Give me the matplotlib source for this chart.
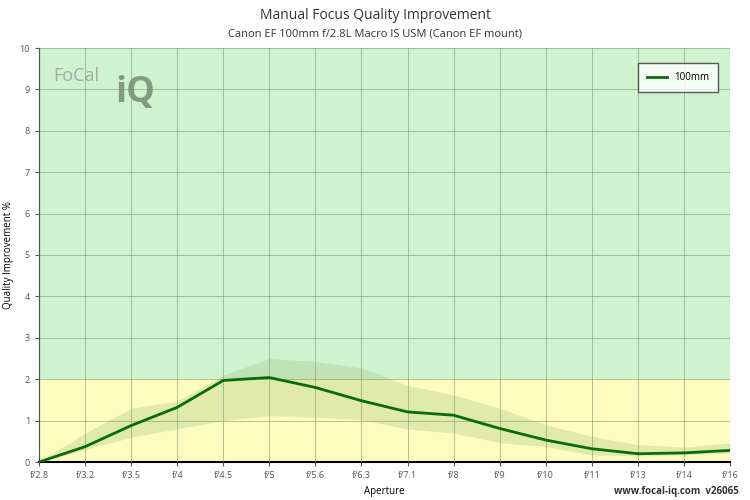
import matplotlib
matplotlib.use("Agg")
import matplotlib.pyplot as plt

apertures = ["f/2.8","f/3.2","f/3.5","f/4","f/4.5","f/5","f/5.6","f/6.3","f/7.1","f/8","f/9","f/10","f/11","f/13","f/14","f/16"]
quality = [0, 0.37, 0.88, 1.32, 1.97, 2.04, 1.8, 1.48, 1.21, 1.13, 0.81, 0.53, 0.32, 0.2, 0.22, 0.28]
upper = [0, 0.7, 1.3, 1.47, 2.1, 2.5, 2.43, 2.27, 1.85, 1.62, 1.3, 0.9, 0.62, 0.42, 0.36, 0.46]
lower = [0, 0.3, 0.6, 0.8, 1.0, 1.12, 1.08, 1.02, 0.8, 0.7, 0.47, 0.37, 0.17, 0.15, 0.17, 0.22]

plt.rcParams['font.family'] = ['Open Sans', 'DejaVu Sans']
fig = plt.figure(figsize=(7.5, 5), dpi=100)
ax = fig.add_axes([39/750, 38/500, 691/750, 414/500])
x = list(range(len(apertures)))
ax.axhspan(2, 10, color='#cff2cf', zorder=0)
ax.axhspan(0, 2, color='#fffcc0', zorder=0)
ax.fill_between(x, lower, upper, color='#9bc27a', alpha=0.3, lw=0, zorder=1)
ax.plot(x, quality, color='#0a6b0a', lw=2, label='100mm', zorder=3)
ax.set_xlim(0, len(apertures) - 1)
ax.set_ylim(0, 10)
ax.set_xticks(x)
ax.set_xticklabels(apertures)
ax.set_yticks(range(11))
ax.grid(True, color='#7a9a7a', lw=0.7, alpha=0.6, zorder=2)
ax.set_axisbelow(False)
for s in ['top', 'right']:
    ax.spines[s].set_visible(False)
ax.spines['bottom'].set_linewidth(1.5)
ax.tick_params(labelsize=6.5, colors='#555555', length=3)
ax.set_xlabel('Aperture', fontsize=7)
ax.set_ylabel('Quality Improvement %', fontsize=7)
fig.text(0.5, 0.962, 'Manual Focus Quality Improvement', ha='center', fontsize=10, color='#333333')
fig.text(0.5, 0.928, 'Canon EF 100mm f/2.8L Macro IS USM (Canon EF mount)', ha='center', fontsize=8, color='#333333')
fig.text(0.985, 0.012, 'www.focal-iq.com  v26065', ha='right', fontsize=7, weight='bold', color='#333333')
ax.text(0.02, 0.955, 'FoCal', transform=ax.transAxes, fontsize=13, color='#999999', alpha=0.8, va='top')
ax.text(0.11, 0.935, 'iQ', transform=ax.transAxes, fontsize=26, color='#7a927a', alpha=0.9, va='top', weight='bold')
leg = ax.legend(loc='upper right', fontsize=7, fancybox=False, edgecolor='#333333', bbox_to_anchor=(0.99, 0.975), borderpad=0.9)
leg.get_frame().set_linewidth(1)
fig.savefig('out.png')
